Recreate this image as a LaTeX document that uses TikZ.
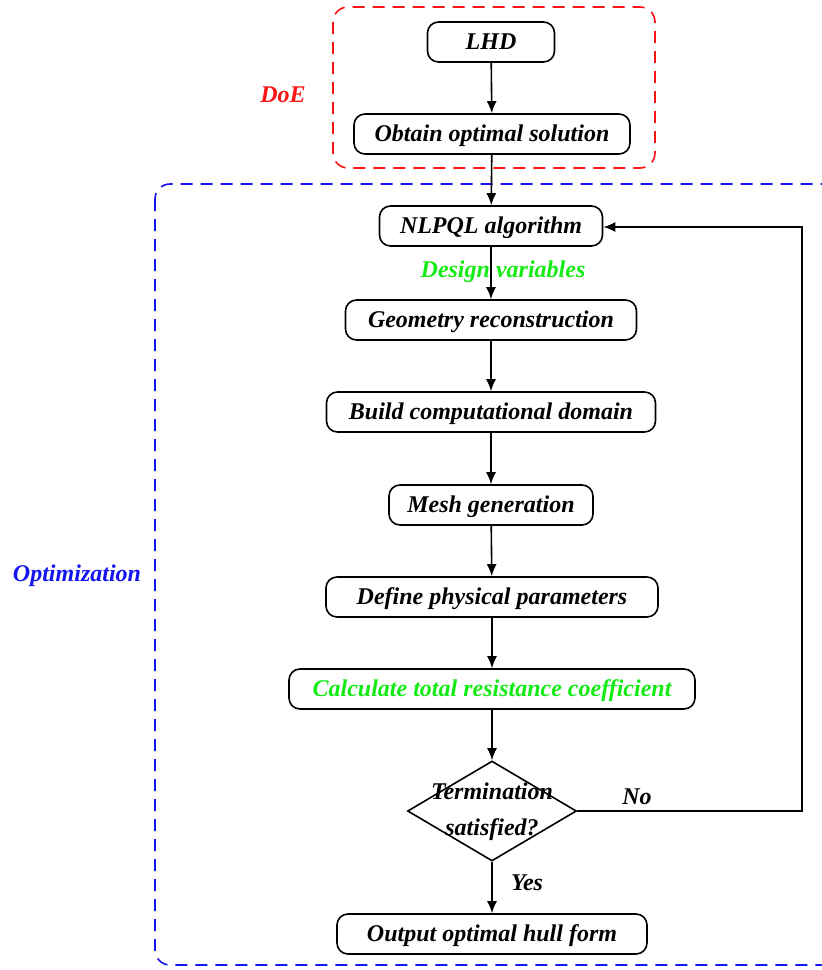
\documentclass[tikz,border=0pt]{standalone}
\usepackage{fontspec}
\setmainfont{Liberation Serif}
\usetikzlibrary{shapes.geometric,arrows.meta}
\definecolor{dgreen}{RGB}{20,235,20}
\definecolor{dred}{RGB}{250,20,20}
\definecolor{dblue}{RGB}{20,20,240}
\begin{document}
\begin{tikzpicture}[x=1pt,y=-1pt,
  every node/.style={font=\fontsize{24}{36}\selectfont\bfseries\itshape},
  proc/.style={draw, line width=1.6pt, rounded corners=11pt, minimum height=40pt, inner sep=0pt, text height=17pt, text depth=3pt},
  dec/.style={draw, line width=1.6pt, diamond, aspect=1.69, minimum width=169pt, minimum height=100pt, inner sep=0pt, align=center},
  conn/.style={line width=1.6pt, -{Latex[length=12pt,width=10pt]}},
  lbl/.style={inner sep=0pt},
  grp/.style={line width=1.6pt, dash pattern=on 12pt off 8pt, rounded corners=15pt}
]
\useasboundingbox (0,0) rectangle (822,970);
\begin{scope}
\clip (0,0) rectangle (822,970);
% groups
\draw[grp, dred] (333,7) rectangle (655,168);
\draw[grp, dblue] (155,184) rectangle (850,965);
\end{scope}
\node[lbl, text=dred] (doel) at (283,95) {DoE};
\node[lbl, text=dblue] (optl) at (77,576) {Optimization};
% nodes
\node[proc, minimum width=127pt] (lhd) at (491,42) {LHD};
\node[proc, minimum width=276pt] (obt) at (492,134) {Obtain optimal solution};
\node[proc, minimum width=223pt] (nlp) at (491,226) {NLPQL algorithm};
\node[proc, minimum width=291pt] (geo) at (491,320) {Geometry reconstruction};
\node[proc, minimum width=329pt] (bld) at (491,412) {Build computational domain};
\node[proc, minimum width=204pt] (msh) at (491,505) {Mesh generation};
\node[proc, minimum width=332pt] (def) at (492,597) {Define physical parameters};
\node[proc, minimum width=406pt, text=dgreen] (cal) at (492,689) {Calculate total resistance coefficient};
\node[dec] (ter) at (492,811) {};
\node[lbl, align=center] (tert) at (492,812) {Termination\\satisfied?};
\node[proc, minimum width=310pt] (out) at (492,934) {Output optimal hull form};
\coordinate (c1) at (802,811);
\coordinate (c2) at (802,227);
% labels
\node[lbl, text=dgreen] (dv) at (503,272) {Design variables};
\node[lbl] (no) at (637,797) {No};
\node[lbl] (yes) at (527,883) {Yes};
% connectors
\draw[conn] (lhd) -- (obt);
\draw[conn] (obt) -- (nlp);
\draw[conn] (nlp) -- (geo);
\draw[conn] (geo) -- (bld);
\draw[conn] (bld) -- (msh);
\draw[conn] (msh) -- (def);
\draw[conn] (def) -- (cal);
\draw[conn] (cal) -- (ter.north);
\draw[conn] (ter.south) -- (out);
\draw[conn] (ter.east) -- (c1) -- (c2) -- (nlp.east |- c2);
\end{tikzpicture}
\end{document}
